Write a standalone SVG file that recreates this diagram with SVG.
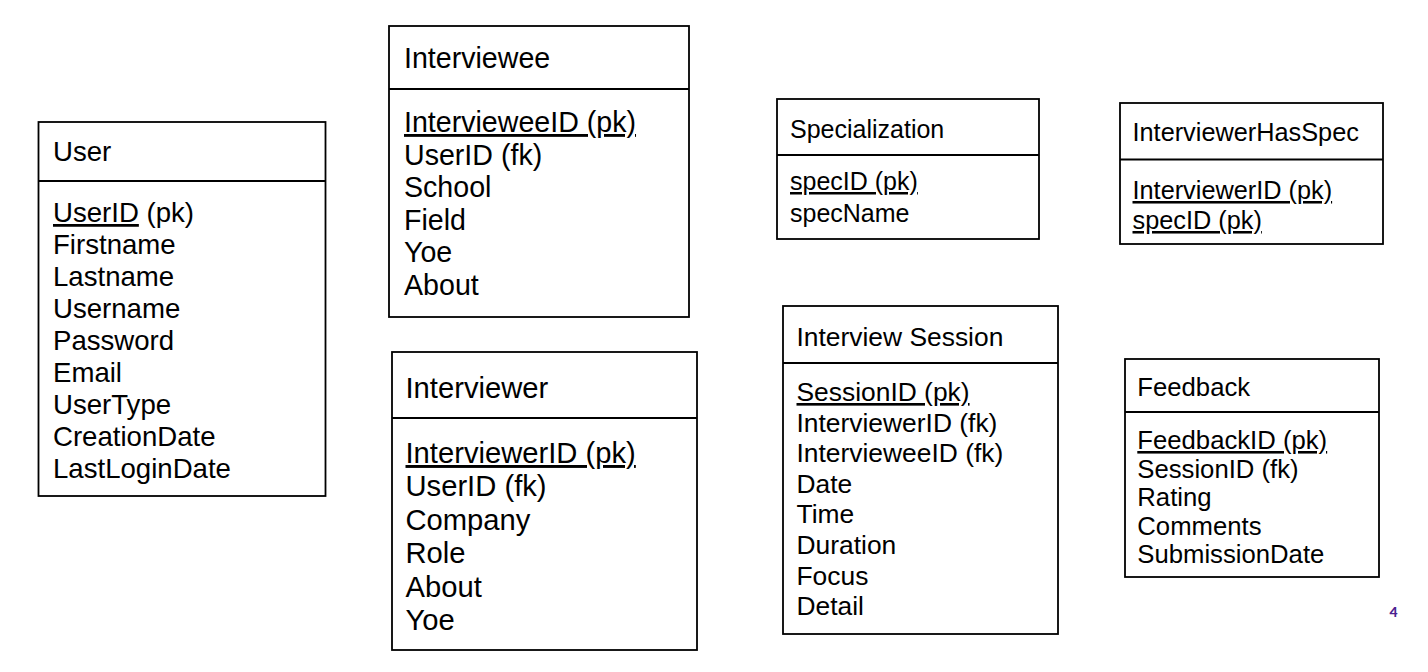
<svg xmlns="http://www.w3.org/2000/svg" width="1428" height="672" viewBox="0 0 1428 672">
<style>
  .box { fill: #ffffff; stroke: #000000; stroke-width: 1.8; }
  .div { stroke: #000000; stroke-width: 1.8; }
  text { font-family: "Liberation Sans", Arial, sans-serif; fill: #000000; }
  .u { text-decoration: underline; }
  .pg { font-family: Lato, "Open Sans", sans-serif; font-weight: 900; font-size: 14px; fill: #4A2190; }
</style>
<rect x="0" y="0" width="1428" height="672" fill="#ffffff"/>

<g id="user" font-size="27.6">
  <rect class="box" x="38.5" y="122" width="287" height="374"/>
  <line class="div" x1="38.5" y1="181" x2="325.5" y2="181"/>
  <text x="53" y="161">User</text>
  <text x="53" y="222"><tspan class="u">UserID</tspan> (pk)</text>
  <text x="53" y="254">Firstname</text>
  <text x="53" y="286">Lastname</text>
  <text x="53" y="318">Username</text>
  <text x="53" y="350">Password</text>
  <text x="53" y="382">Email</text>
  <text x="53" y="414">UserType</text>
  <text x="53" y="446">CreationDate</text>
  <text x="53" y="478">LastLoginDate</text>
</g>

<g id="interviewee" font-size="28.6">
  <rect class="box" x="389" y="26" width="300" height="291"/>
  <line class="div" x1="389" y1="89" x2="689" y2="89"/>
  <text x="404" y="68">Interviewee</text>
  <text class="u" x="404" y="132">IntervieweeID (pk)</text>
  <text x="404" y="164.6">UserID (fk)</text>
  <text x="404" y="197.2">School</text>
  <text x="404" y="229.8">Field</text>
  <text x="404" y="262.4">Yoe</text>
  <text x="404" y="295">About</text>
</g>

<g id="interviewer" font-size="29.2">
  <rect class="box" x="392" y="352" width="305" height="298"/>
  <line class="div" x1="392" y1="418" x2="697" y2="418"/>
  <text x="405.5" y="397.5">Interviewer</text>
  <text class="u" x="405.5" y="463">InterviewerID (pk)</text>
  <text x="405.5" y="496.4">UserID (fk)</text>
  <text x="405.5" y="529.8">Company</text>
  <text x="405.5" y="563.2">Role</text>
  <text x="405.5" y="596.6">About</text>
  <text x="405.5" y="630">Yoe</text>
</g>

<g id="specialization" font-size="25">
  <rect class="box" x="777" y="99" width="262" height="140"/>
  <line class="div" x1="777" y1="155" x2="1039" y2="155"/>
  <text x="790" y="138">Specialization</text>
  <text class="u" x="790" y="190">specID (pk)</text>
  <text x="790" y="222">specName</text>
</g>

<g id="interviewerhasspec" font-size="25.3">
  <rect class="box" x="1120" y="103" width="263" height="141"/>
  <line class="div" x1="1120" y1="159.5" x2="1383" y2="159.5"/>
  <text x="1132.5" y="141">InterviewerHasSpec</text>
  <text class="u" x="1132.5" y="199">InterviewerID (pk)</text>
  <text class="u" x="1132.5" y="229">specID (pk)</text>
</g>

<g id="interview-session" font-size="26.4">
  <rect class="box" x="783" y="306" width="275" height="328"/>
  <line class="div" x1="783" y1="363" x2="1058" y2="363"/>
  <text x="796.5" y="346">Interview Session</text>
  <text class="u" x="796.5" y="401">SessionID (pk)</text>
  <text x="796.5" y="431.6">InterviewerID (fk)</text>
  <text x="796.5" y="462.2">IntervieweeID (fk)</text>
  <text x="796.5" y="492.8">Date</text>
  <text x="796.5" y="523.4">Time</text>
  <text x="796.5" y="554">Duration</text>
  <text x="796.5" y="584.6">Focus</text>
  <text x="796.5" y="615.2">Detail</text>
</g>

<g id="feedback" font-size="25.7">
  <rect class="box" x="1125" y="359" width="254" height="218"/>
  <line class="div" x1="1125" y1="412" x2="1379" y2="412"/>
  <text x="1137.3" y="395.5">Feedback</text>
  <text class="u" x="1137.3" y="449">FeedbackID (pk)</text>
  <text x="1137.3" y="477.5">SessionID (fk)</text>
  <text x="1137.3" y="506">Rating</text>
  <text x="1137.3" y="534.5">Comments</text>
  <text x="1137.3" y="563">SubmissionDate</text>
</g>

<g id="connectors"></g>

<text class="pg" x="1389.5" y="617">4</text>
</svg>
